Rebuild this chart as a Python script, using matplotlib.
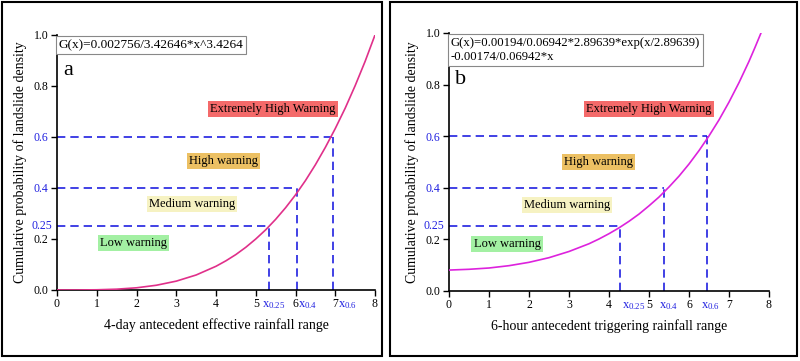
import matplotlib
matplotlib.use('Agg')
import matplotlib.pyplot as plt
from matplotlib.patches import Rectangle

plt.rcParams['font.family'] = 'Liberation Serif'
plt.rcParams['mathtext.fontset'] = 'custom'
plt.rcParams['mathtext.rm'] = 'Liberation Serif'
plt.rcParams['mathtext.it'] = 'Liberation Serif'
plt.rcParams['xtick.direction'] = 'out'
plt.rcParams['ytick.direction'] = 'out'

# curve values
x_a = [0, 0.5, 1, 1.5, 2, 2.5, 3, 3.5, 4, 4.25, 4.5, 4.75, 5, 5.25, 5.5, 5.75,
       6, 6.25, 6.5, 6.75, 7, 7.25, 7.5, 7.75, 8]
g_a = [0.0, 0.0001, 0.0008, 0.0032, 0.0086, 0.0186, 0.0347, 0.0588, 0.093,
       0.1145, 0.139, 0.1675, 0.200, 0.236, 0.277, 0.3225, 0.373, 0.429, 0.491,
       0.559, 0.633, 0.713, 0.801, 0.896, 1.0]
x_b = [0, 0.5, 1, 1.5, 2, 2.5, 3, 3.5, 3.75, 4, 4.25, 4.5, 4.75, 5, 5.25, 5.5,
       5.75, 6, 6.25, 6.5, 6.75, 7, 7.25, 7.5, 7.65, 7.8]
g_b = [0.081, 0.084, 0.089, 0.098, 0.111, 0.129, 0.153, 0.183, 0.2015, 0.222,
       0.2446, 0.270, 0.298, 0.330, 0.364, 0.403, 0.445, 0.492, 0.544, 0.601,
       0.663, 0.732, 0.8075, 0.890, 0.944, 1.0]

levels = [0.25, 0.4, 0.6]
level_tags = ['0.25', '0.4', '0.6']
xq_a = [5.33, 6.04, 6.94]
xq_b = [4.28, 5.38, 6.44]
xq_label_a = [5.15, 6.06, 7.07]
xq_label_b = [4.32, 5.25, 6.29]

zones = ['Extremely High Warning', 'High warning', 'Medium warning', 'Low warning']
zone_colors = ['#f46a6a', '#ecc063', '#f6f2c2', '#a3f0a3']
zone_pos_a = [(5.43, 0.71), (4.18, 0.506), (3.4, 0.337), (1.92, 0.184)]
zone_pos_b = [(5.0, 0.705), (3.73, 0.50), (2.95, 0.333), (1.45, 0.182)]

eq_a = 'G(x)=0.002756/3.42646*x^3.4264'
eq_b = 'G(x)=0.00194/0.06942*2.89639*exp(x/2.89639)\n-0.00174/0.06942*x'

dash_blue = '#2020e0'


def draw_panel(ax, xs, gs, curve_color, xq, xq_lab, zone_pos, eq, letter, xlabel):
    ax.plot(xs, gs, color=curve_color, lw=1.2, zorder=3)
    for lev, xv in zip(levels, xq):
        ax.plot([0, xv], [lev, lev], color=dash_blue, lw=1.2, ls=(0, (5, 3)), zorder=2)
        ax.plot([xv, xv], [0, lev], color=dash_blue, lw=1.2, ls=(0, (5, 3)), zorder=2)
    for name, col, (px, py) in zip(zones, zone_colors, zone_pos):
        ax.text(px, py, name, ha='center', va='center', fontsize=9,
                bbox=dict(facecolor=col, edgecolor='none', pad=1.5))
    ax.text(0.006, 0.985, eq, transform=ax.transAxes, ha='left', va='top',
            fontsize=9.5 if letter == 'a' else 9.2, linespacing=1.25,
            bbox=dict(facecolor='white', edgecolor='#888888', lw=0.8, pad=2))
    ax.text(0.02, 0.86 if letter == 'a' else 0.82, letter, transform=ax.transAxes,
            ha='left', va='center', fontsize=16)

    ax.set_xlim(0, 8)
    ax.set_ylim(0, 1.0)
    ax.set_xticks(range(9))
    ax.set_yticks([0.0, 0.2, 0.4, 0.6, 0.8, 1.0])
    ax.set_yticklabels(['0.0', '0.2', '0.4', '0.6', '0.8', '1.0'])
    for lab in ax.get_yticklabels():
        if lab.get_text() in ('0.4', '0.6'):
            lab.set_color(dash_blue)
    ax.text(-0.12, 0.25, '0.25', ha='right', va='center', fontsize=8.5, color=dash_blue)
    for xl, tag in zip(xq_lab, level_tags):
        ax.text(xl, -0.035, r'$\mathregular{x_{%s}}$' % tag, ha='left', va='top',
                fontsize=9, color=dash_blue)
    ax.tick_params(labelsize=8.5, length=4, width=1, pad=2)
    ax.spines['top'].set_visible(False)
    ax.spines['right'].set_visible(False)
    ax.spines['left'].set_linewidth(1.2)
    ax.spines['bottom'].set_linewidth(1.2)
    ax.set_xlabel(xlabel, fontsize=10, labelpad=6)
    ax.set_ylabel('Cumulative probability of landslide density', fontsize=10, labelpad=5)


fig = plt.figure(figsize=(8, 3.61), dpi=100)
ax1 = fig.add_axes([0.07125, 0.1967, 0.3975, 0.7064])
ax2 = fig.add_axes([0.56125, 0.194, 0.40, 0.7147])

draw_panel(ax1, x_a, g_a, '#e0308a', xq_a, xq_label_a, zone_pos_a, eq_a, 'a',
           '4-day antecedent effective rainfall range')
draw_panel(ax2, x_b, g_b, '#dd22dd', xq_b, xq_label_b, zone_pos_b, eq_b, 'b',
           '6-hour antecedent triggering rainfall range')

fig.patches.append(Rectangle((0.0025, 0.0139), 0.475, 0.98, transform=fig.transFigure,
                             fill=False, edgecolor='black', lw=1.5))
fig.patches.append(Rectangle((0.4875, 0.0139), 0.509, 0.98, transform=fig.transFigure,
                             fill=False, edgecolor='black', lw=1.5))

fig.savefig('out.png', dpi=100)
